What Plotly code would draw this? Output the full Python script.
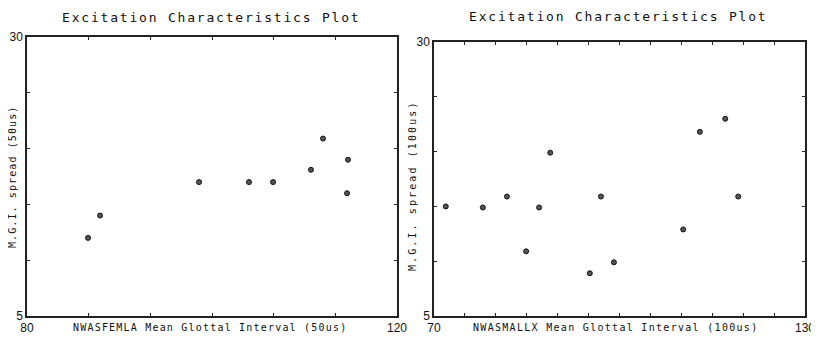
import plotly.graph_objects as go

# ---- data ----
left_x = [86.6, 87.9, 98.6, 104.0, 106.6, 110.7, 112.0, 114.7, 114.6]
left_y = [12.0, 14.0, 17.0, 17.0, 17.0, 18.1, 20.9, 19.0, 16.0]

right_x = [71.9, 77.9, 81.8, 84.9, 87.0, 88.8, 95.2, 97.0, 99.1, 110.3, 113.0, 117.1, 119.2]
right_y = [15.0, 14.9, 15.9, 10.9, 14.9, 19.9, 8.9, 15.9, 9.9, 12.9, 21.8, 23.0, 15.9]

left_xticks = [80, 86.667, 93.333, 100, 106.667, 113.333, 120]
left_xtext = ["80", "", "", "", "", "", "120"]
right_xticks = [70, 75, 80, 85, 90, 95, 100, 105, 110, 115, 120, 125, 130]
right_xtext = ["70"] + [""] * 11 + ["130"]
yticks = [5, 10, 15, 20, 25, 30]
ytext = ["5", "", "", "", "", "30"]

title_text = "Excitation Characteristics Plot"
left_xlabel = "NWASFEMLA Mean Glottal Interval (50us)"
right_xlabel = "NWASMALLX Mean Glottal Interval (100us)"
left_ylabel = "M.G.I. spread (50us)"
right_ylabel = "M.G.I. spread (100us)"

# the page body has an 8px default margin: size the figure to fit the window
OFF = 8
W, H = 819 - OFF, 339 - OFF
MONO = "DejaVu Sans Mono"
INK = "#222222"


def px(x):
    return (x - OFF) / W


def py(y):
    return 1 - (y - OFF) / H


def spaced(text, ls):
    return f'<span style="letter-spacing:{ls}px">{text}</span>'


fig = go.Figure()
marker = dict(symbol="circle", size=5, color="#555555",
              line=dict(width=1, color="#111111"))
fig.add_trace(go.Scatter(x=left_x, y=left_y, mode="markers", marker=marker,
                         xaxis="x", yaxis="y", showlegend=False))
fig.add_trace(go.Scatter(x=right_x, y=right_y, mode="markers", marker=marker,
                         xaxis="x2", yaxis="y2", showlegend=False))

axis_common = dict(showline=True, linecolor=INK, linewidth=1.5, mirror="ticks",
                   ticks="inside", ticklen=3, tickcolor=INK, tickwidth=1,
                   showgrid=False, zeroline=False, automargin=False,
                   tickfont=dict(family="Liberation Sans", size=12, color="#111111"))

fig.update_layout(
    width=W, height=H,
    margin=dict(l=0, r=0, t=0, b=0, autoexpand=False),
    paper_bgcolor="white", plot_bgcolor="white",
    xaxis=dict(domain=[px(27), px(397)], range=[80, 120], anchor="y",
               tickmode="array", tickvals=left_xticks, ticktext=left_xtext,
               **axis_common),
    yaxis=dict(domain=[py(316), py(37)], range=[5, 30], anchor="x",
               tickmode="array", tickvals=yticks, ticktext=ytext,
               **axis_common),
    xaxis2=dict(domain=[px(434), px(805)], range=[70, 130], anchor="y2",
                tickmode="array", tickvals=right_xticks, ticktext=right_xtext,
                **axis_common),
    yaxis2=dict(domain=[py(316), py(42)], range=[5, 30], anchor="x2",
                tickmode="array", tickvals=yticks, ticktext=ytext,
                **axis_common),
)

ann_font_title = dict(family=MONO, size=13, color="#111111")
ann_font_lab = dict(family=MONO, size=10, color="#111111")

annotations = [
    dict(x=px(211), y=py(8.5), text=spaced(title_text, 1.8), font=ann_font_title,
         yanchor="top", borderpad=0),
    dict(x=px(618), y=py(17), text=spaced(title_text, 1.8), font=ann_font_title),
    dict(x=px(210), y=py(327), text=spaced(left_xlabel, 1.2), font=ann_font_lab),
    dict(x=px(616), y=py(327), text=spaced(right_xlabel, 1.3), font=ann_font_lab),
    dict(x=px(12), y=py(177), text=spaced(left_ylabel, 1.1), font=ann_font_lab, textangle=-90),
    dict(x=px(412), y=py(186), text=spaced(right_ylabel, 2.1), font=ann_font_lab, textangle=-90),
]
for a in annotations:
    a.setdefault("yanchor", "middle")
    a.update(xref="paper", yref="paper", showarrow=False, xanchor="center")
fig.update_layout(annotations=annotations)

fig.write_html("out.html")
